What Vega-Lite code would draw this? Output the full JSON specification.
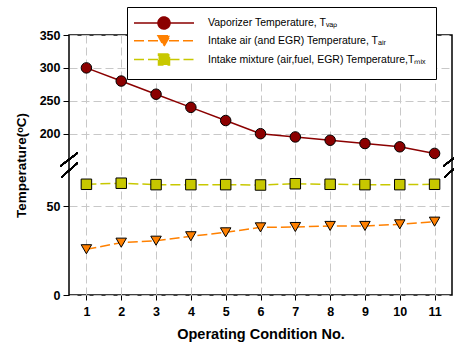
{
  "$schema": "https://vega.github.io/schema/vega-lite/v6.json",
  "width": 383,
  "height": 260,
  "autosize": "none",
  "padding": {"left": 69, "top": 35, "right": 2, "bottom": 52},
  "background": "white",
  "config": {
    "view": {"stroke": "black", "strokeWidth": 1.5},
    "font": "Liberation Sans",
    "axis": {
      "gridColor": "#c8c8c8", "gridDash": [8, 4], "gridWidth": 1,
      "domain": false, "tickColor": "black", "tickWidth": 1,
      "labelFont": "Liberation Sans", "labelFontWeight": "bold", "labelFontSize": 12.5, "labelColor": "black",
      "titleFont": "Liberation Sans", "titleFontWeight": "bold", "titleFontSize": 14.5, "titleColor": "black"
    }
  },
  "data": {
    "values": [
      {"cond": 1, "series": "Vaporizer Temperature, Tᵥₐₚ", "temp": 300},
      {"cond": 2, "series": "Vaporizer Temperature, Tᵥₐₚ", "temp": 280},
      {"cond": 3, "series": "Vaporizer Temperature, Tᵥₐₚ", "temp": 260},
      {"cond": 4, "series": "Vaporizer Temperature, Tᵥₐₚ", "temp": 240},
      {"cond": 5, "series": "Vaporizer Temperature, Tᵥₐₚ", "temp": 220},
      {"cond": 6, "series": "Vaporizer Temperature, Tᵥₐₚ", "temp": 200},
      {"cond": 7, "series": "Vaporizer Temperature, Tᵥₐₚ", "temp": 195},
      {"cond": 8, "series": "Vaporizer Temperature, Tᵥₐₚ", "temp": 190},
      {"cond": 9, "series": "Vaporizer Temperature, Tᵥₐₚ", "temp": 185},
      {"cond": 10, "series": "Vaporizer Temperature, Tᵥₐₚ", "temp": 180},
      {"cond": 11, "series": "Vaporizer Temperature, Tᵥₐₚ", "temp": 170},
      {"cond": 1, "series": "Intake air (and EGR) Temperature, Tₐᵢᵣ", "temp": 25.7},
      {"cond": 2, "series": "Intake air (and EGR) Temperature, Tₐᵢᵣ", "temp": 29.4},
      {"cond": 3, "series": "Intake air (and EGR) Temperature, Tₐᵢᵣ", "temp": 30.5},
      {"cond": 4, "series": "Intake air (and EGR) Temperature, Tₐᵢᵣ", "temp": 33},
      {"cond": 5, "series": "Intake air (and EGR) Temperature, Tₐᵢᵣ", "temp": 35.2},
      {"cond": 6, "series": "Intake air (and EGR) Temperature, Tₐᵢᵣ", "temp": 38},
      {"cond": 7, "series": "Intake air (and EGR) Temperature, Tₐᵢᵣ", "temp": 38.2},
      {"cond": 8, "series": "Intake air (and EGR) Temperature, Tₐᵢᵣ", "temp": 38.8},
      {"cond": 9, "series": "Intake air (and EGR) Temperature, Tₐᵢᵣ", "temp": 38.8},
      {"cond": 10, "series": "Intake air (and EGR) Temperature, Tₐᵢᵣ", "temp": 39.7},
      {"cond": 11, "series": "Intake air (and EGR) Temperature, Tₐᵢᵣ", "temp": 41.2},
      {"cond": 1, "series": "Intake mixture (air,fuel, EGR) Temperature,Tₘᵢₓ", "temp": 62.2},
      {"cond": 2, "series": "Intake mixture (air,fuel, EGR) Temperature,Tₘᵢₓ", "temp": 62.8},
      {"cond": 3, "series": "Intake mixture (air,fuel, EGR) Temperature,Tₘᵢₓ", "temp": 62.0},
      {"cond": 4, "series": "Intake mixture (air,fuel, EGR) Temperature,Tₘᵢₓ", "temp": 62.0},
      {"cond": 5, "series": "Intake mixture (air,fuel, EGR) Temperature,Tₘᵢₓ", "temp": 62.0},
      {"cond": 6, "series": "Intake mixture (air,fuel, EGR) Temperature,Tₘᵢₓ", "temp": 61.8},
      {"cond": 7, "series": "Intake mixture (air,fuel, EGR) Temperature,Tₘᵢₓ", "temp": 62.5},
      {"cond": 8, "series": "Intake mixture (air,fuel, EGR) Temperature,Tₘᵢₓ", "temp": 62.2},
      {"cond": 9, "series": "Intake mixture (air,fuel, EGR) Temperature,Tₘᵢₓ", "temp": 62.0},
      {"cond": 10, "series": "Intake mixture (air,fuel, EGR) Temperature,Tₘᵢₓ", "temp": 62.0},
      {"cond": 11, "series": "Intake mixture (air,fuel, EGR) Temperature,Tₘᵢₓ", "temp": 62.2}
    ]
  },
  "encoding": {
    "x": {
      "field": "cond", "type": "quantitative",
      "scale": {"domain": [0.5, 11.5], "nice": false, "zero": false},
      "axis": {"values": [1, 2, 3, 4, 5, 6, 7, 8, 9, 10, 11], "tickSize": 5, "labelPadding": 5, "titlePadding": 10, "title": "Operating Condition No."}
    },
    "y": {
      "field": "temp", "type": "quantitative",
      "scale": {"domain": [0, 70, 163, 350], "range": [260, 135.4, 123, 0], "nice": false, "zero": false},
      "axis": {"values": [0, 50, 200, 250, 300, 350], "tickSize": 6, "labelPadding": 3, "titlePadding": 11, "titleFontSize": 13.5, "title": "Temperature(ᵒC)"}
    }
  },
  "layer": [
    {
      "transform": [{"filter": {"field": "series", "equal": "Vaporizer Temperature, Tᵥₐₚ"}}],
      "mark": {"type": "line", "strokeWidth": 1.5},
      "encoding": {
        "color": {
          "field": "series", "type": "nominal",
          "scale": {
            "domain": ["Vaporizer Temperature, Tᵥₐₚ", "Intake air (and EGR) Temperature, Tₐᵢᵣ", "Intake mixture (air,fuel, EGR) Temperature,Tₘᵢₓ"],
            "range": ["#8B0000", "#FF8000", "#C8C800"]
          },
          "legend": {
            "orient": "none", "legendX": 58, "legendY": -28, "title": null,
            "fillColor": "white", "strokeColor": "black", "padding": 10,
            "symbolSize": 100, "labelOffset": 59, "labelFontSize": 10.5, "labelFont": "Liberation Sans",
            "labelColor": "black", "labelLimit": 400, "rowPadding": 0.8, "symbolOpacity": 1, "symbolStrokeWidth": 1.5,
            "encoding": {
              "symbols": {
                "shape": {
                  "condition": [
                    {"test": "indexof(datum.value,'Vapor')>=0", "value": "M-1.8,0H3M5.4,0H10.2M3,0A1.2,1.2,0,1,0,5.4,0A1.2,1.2,0,1,0,3,0Z"},
                    {"test": "indexof(datum.value,'air (and')>=0", "value": "M-1.8,0H3.2M5.2,0H10.2M3,-1L5.4,-1L4.2,1.1Z"}
                  ],
                  "value": "M-1.8,0H3.1M5.3,0H10.2M3.1,-1.1H5.3V1.1H3.1Z"
                },
                "strokeDash": {
                  "condition": {"test": "indexof(datum.value,'Vapor')>=0", "value": [1, 0]},
                  "value": [10, 4]
                },
                "fill": {
                  "condition": [
                    {"test": "indexof(datum.value,'Vapor')>=0", "value": "#8B0000"},
                    {"test": "indexof(datum.value,'air (and')>=0", "value": "#FF8000"}
                  ],
                  "value": "#C8C800"
                },
                "stroke": {
                  "condition": [
                    {"test": "indexof(datum.value,'Vapor')>=0", "value": "#8B0000"},
                    {"test": "indexof(datum.value,'air (and')>=0", "value": "#FF8000"}
                  ],
                  "value": "#C8C800"
                }
              }
            }
          }
        }
      }
    },
    {
      "transform": [{"filter": {"not": {"field": "series", "equal": "Vaporizer Temperature, Tᵥₐₚ"}}}],
      "mark": {"type": "line", "strokeWidth": 1.5, "strokeDash": [10, 4]},
      "encoding": {
        "color": {"field": "series", "type": "nominal", "legend": null}
      }
    },
    {
      "transform": [{"filter": {"field": "series", "equal": "Vaporizer Temperature, Tᵥₐₚ"}}],
      "mark": {"type": "point", "shape": "circle", "filled": true, "size": 110, "stroke": "black", "strokeWidth": 1, "opacity": 1},
      "encoding": {"color": {"field": "series", "type": "nominal", "legend": null}}
    },
    {
      "transform": [{"filter": {"field": "series", "equal": "Intake air (and EGR) Temperature, Tₐᵢᵣ"}}],
      "mark": {"type": "point", "shape": "triangle-down", "filled": true, "size": 110, "stroke": "black", "strokeWidth": 1, "opacity": 1},
      "encoding": {"color": {"field": "series", "type": "nominal", "legend": null}}
    },
    {
      "transform": [{"filter": {"field": "series", "equal": "Intake mixture (air,fuel, EGR) Temperature,Tₘᵢₓ"}}],
      "mark": {"type": "point", "shape": "square", "filled": true, "size": 110, "stroke": "black", "strokeWidth": 1, "opacity": 1},
      "encoding": {"color": {"field": "series", "type": "nominal", "legend": null}}
    },
    {
      "mark": {"type": "rule", "color": "black", "strokeWidth": 1.2},
      "encoding": {
        "x": {"datum": 0.256, "type": "quantitative", "title": "Operating Condition No."},
        "x2": {"datum": 0.744},
        "y": {"datum": 103, "type": "quantitative", "title": "Temperature(ᵒC)"},
        "y2": {"datum": 170.7}
      }
    },
    {
      "mark": {"type": "rule", "color": "black", "strokeWidth": 1.2},
      "encoding": {
        "x": {"datum": 0.28, "type": "quantitative", "title": "Operating Condition No."},
        "x2": {"datum": 0.744},
        "y": {"datum": 66.1, "type": "quantitative", "title": "Temperature(ᵒC)"},
        "y2": {"datum": 125.5}
      }
    },
    {
      "mark": {"type": "rule", "color": "black", "strokeWidth": 1.2},
      "encoding": {
        "x": {"datum": 11.256, "type": "quantitative", "title": "Operating Condition No."},
        "x2": {"datum": 11.744},
        "y": {"datum": 103, "type": "quantitative", "title": "Temperature(ᵒC)"},
        "y2": {"datum": 170.7}
      }
    },
    {
      "mark": {"type": "rule", "color": "black", "strokeWidth": 1.2},
      "encoding": {
        "x": {"datum": 11.28, "type": "quantitative", "title": "Operating Condition No."},
        "x2": {"datum": 11.744},
        "y": {"datum": 66.1, "type": "quantitative", "title": "Temperature(ᵒC)"},
        "y2": {"datum": 125.5}
      }
    }
  ]
}
